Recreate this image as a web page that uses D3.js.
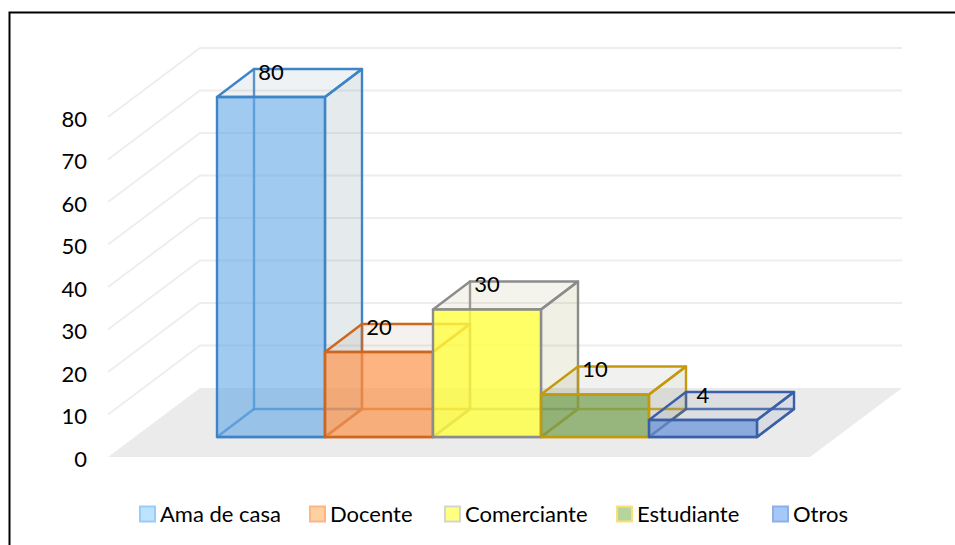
<!DOCTYPE html>
<html>
  <head>
    <meta http-equiv="Content-Type" content="text/html;charset=utf-8" />
    <title>Ocupacion</title>
    <style>
      body {
        margin: 0;
        background: #fff;
        overflow: hidden;
      }
      text {
        font-family: Lato, "Noto Sans", sans-serif;
        font-size: 22px;
        fill: #000;
      }
      .grid {
        fill: none;
        stroke: #eeeeee;
        stroke-width: 2px;
      }
      .face {
        stroke-width: 2.4px;
        stroke-linejoin: round;
      }
    </style>
    <script src="https://d3js.org/d3.v7.min.js"></script>
  </head>
  <body>
    <div id="chart"></div>
    <script type="text/javascript">
      const categories = ["Ama de casa", "Docente", "Comerciante", "Estudiante", "Otros"];
      const values = [80, 20, 30, 10, 4];
      const yTicks = [0, 10, 20, 30, 40, 50, 60, 70, 80];

      const frontFill = [
        "rgba(97,167,230,0.6)",
        "rgba(252,148,76,0.7)",
        "rgba(255,255,64,0.8)",
        "rgba(116,159,79,0.7)",
        "rgba(99,144,218,0.7)",
      ];
      const sideFill = [
        "rgba(100,130,150,0.17)",
        "rgba(150,120,90,0.1)",
        "rgba(150,150,70,0.14)",
        "rgba(120,130,100,0.14)",
        "rgba(90,115,170,0.12)",
      ];
      const topFill = [
        "rgba(100,130,160,0.1)",
        "rgba(150,120,90,0.1)",
        "rgba(150,150,70,0.1)",
        "rgba(120,130,100,0.1)",
        "rgba(90,105,150,0.1)",
      ];
      const edge = ["#3f85c6", "#d0651e", "#8c8c8c", "#c49a0c", "#3a5fa8"];
      const legendFill = ["#bde3ff", "#ffd0a0", "#ffff80", "#b5d59c", "#a6c8f8"];
      const legendEdge = ["#99ccf8", "#fbb684", "#d4d4d4", "#fadf7c", "#8fb0e4"];
      const legendX = [140, 310, 445, 617, 773];

      const width = 955,
        height = 545;
      const depth = { x: 37, y: -28 }; // bar depth offset
      const wall = { x: 92, y: -69 }; // floor depth offset
      const floorLeft = 108,
        floorRight = 810,
        lift = 20; // bars stand this far above the floor front edge

      const svg = d3
        .select("#chart")
        .append("svg")
        .attr("width", width)
        .attr("height", height);

      // frame, cut by the edge of the picture
      svg
        .append("path")
        .attr("d", "M9.5," + height + "V12.5H" + width)
        .attr("fill", "none")
        .attr("stroke", "#000")
        .attr("stroke-width", 2);

      const y = d3.scaleLinear().domain([0, 80]).range([457, 117]);
      const x = d3.scaleBand().domain(categories).range([217, 757]);
      const line = d3.line();

      // floor
      svg
        .append("path")
        .attr(
          "d",
          line([
            [floorLeft, y(0)],
            [floorRight, y(0)],
            [floorRight + wall.x, y(0) + wall.y],
            [floorLeft + wall.x, y(0) + wall.y],
          ]) + "Z"
        )
        .attr("fill", "#ebebeb");

      // grid on side wall and back wall
      svg
        .selectAll("path.grid")
        .data(yTicks.slice(1))
        .enter()
        .append("path")
        .attr("class", "grid")
        .attr("d", function (d) {
          return line([
            [floorLeft, y(d)],
            [floorLeft + wall.x, y(d) + wall.y],
            [floorRight + wall.x, y(d) + wall.y],
          ]);
        });

      const axis = d3.axisLeft(y).tickValues(yTicks).tickSize(0).tickPadding(0);
      const axisG = svg
        .append("g")
        .attr("transform", "translate(87,2)")
        .call(axis);
      axisG.select(".domain").remove();
      axisG.attr("font-size", null).attr("font-family", null);

      const bars = svg
        .selectAll("g.bar")
        .data(categories)
        .enter()
        .append("g")
        .attr("class", "bar");

      bars.each(function (c, i) {
        const g = d3.select(this);
        const x0 = x(c),
          x1 = x0 + x.bandwidth(),
          yb = y(0) - lift,
          yt = y(values[i]) - lift,
          dx = depth.x,
          dy = depth.y;

        const face = function (pts, fill, opacity) {
          g.append("path")
            .attr("class", "face")
            .attr("d", line(pts) + "Z")
            .attr("fill", fill)
            .attr("stroke", edge[i])
            .attr("stroke-opacity", opacity);
        };

        // floor of the box
        face(
          [[x0, yb], [x1, yb], [x1 + dx, yb + dy], [x0 + dx, yb + dy]],
          "none",
          0.85
        );
        // hidden back corner
        face([[x0 + dx, yb + dy], [x0 + dx, yt + dy]], "none", 0.85);
        // right side
        face(
          [[x1, yb], [x1 + dx, yb + dy], [x1 + dx, yt + dy], [x1, yt]],
          sideFill[i],
          1
        );
        // top
        face(
          [[x0, yt], [x1, yt], [x1 + dx, yt + dy], [x0 + dx, yt + dy]],
          topFill[i],
          1
        );
        // front
        face([[x0, yb], [x1, yb], [x1, yt], [x0, yt]], frontFill[i], 1);
      });

      // data labels sit on the back edge of each box
      svg
        .selectAll("text.value")
        .data(categories)
        .enter()
        .append("text")
        .attr("class", "value")
        .attr("text-anchor", "middle")
        .attr("dominant-baseline", "central")
        .attr("x", function (c) {
          return x(c) + 54;
        })
        .attr("y", function (c, i) {
          return y(values[i]) - lift + depth.y + 2;
        })
        .text(function (c, i) {
          return values[i];
        });

      // legend
      const legend = svg
        .selectAll("g.legend")
        .data(categories)
        .enter()
        .append("g")
        .attr("class", "legend")
        .attr("transform", function (c, i) {
          return "translate(" + legendX[i] + ",514)";
        });

      legend
        .append("rect")
        .attr("x", 0)
        .attr("y", -7.5)
        .attr("width", 15)
        .attr("height", 15)
        .attr("fill", function (c, i) {
          return legendFill[i];
        })
        .attr("stroke", function (c, i) {
          return legendEdge[i];
        })
        .attr("stroke-width", 2);

      legend
        .append("text")
        .attr("x", 20)
        .attr("y", -1)
        .attr("dominant-baseline", "central")
        .text(function (c) {
          return c;
        });
    </script>
  </body>
</html>
